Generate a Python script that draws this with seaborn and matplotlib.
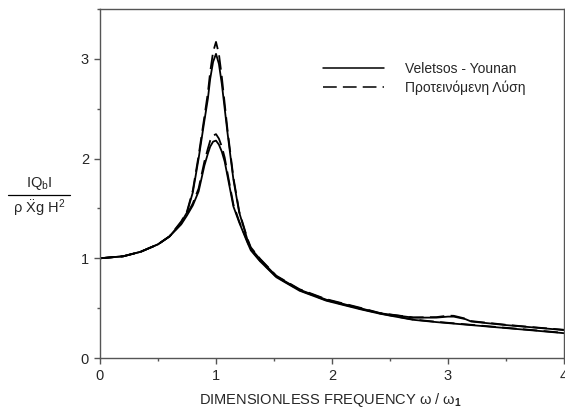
import numpy as np
import matplotlib
matplotlib.use("Agg")
import matplotlib.pyplot as plt
from matplotlib.lines import Line2D
from matplotlib.ticker import MultipleLocator
import pandas as pd
import seaborn as sns

# values (x = omega/omega_1)
freq = [0.0, 0.2, 0.35, 0.5, 0.6, 0.7, 0.75, 0.8, 0.85, 0.9, 0.93, 0.95, 0.975,
        1.0, 1.025, 1.05, 1.075, 1.1, 1.15, 1.2, 1.27, 1.3, 1.38, 1.52, 1.72,
        1.95, 2.24, 2.41, 2.5, 2.7, 2.9, 3.0, 3.05, 3.15, 3.2, 3.5, 3.75, 4.0]

vy_high = [1.0, 1.02, 1.065, 1.14, 1.22, 1.36, 1.46, 1.66, 2.0, 2.38, 2.6, 2.8, 2.97,
           3.05, 2.95, 2.75, 2.5, 2.25, 1.79, 1.46, 1.19, 1.1, 0.99, 0.82, 0.685,
           0.585, 0.50, 0.45, 0.435, 0.405, 0.405, 0.415, 0.415, 0.39, 0.366, 0.33, 0.305, 0.28]

prop_high = [1.0, 1.02, 1.065, 1.14, 1.22, 1.37, 1.47, 1.68, 2.03, 2.42, 2.66, 2.87, 3.07,
             3.17, 3.05, 2.82, 2.55, 2.28, 1.81, 1.47, 1.2, 1.11, 0.995, 0.825, 0.69,
             0.59, 0.505, 0.452, 0.437, 0.407, 0.41, 0.425, 0.423, 0.395, 0.37, 0.333, 0.307, 0.283]

vy_low = [1.0, 1.02, 1.065, 1.14, 1.22, 1.34, 1.43, 1.53, 1.67, 1.93, 2.05, 2.12, 2.17,
          2.18, 2.14, 2.07, 1.97, 1.82, 1.52, 1.36, 1.16, 1.08, 0.97, 0.81, 0.675,
          0.575, 0.49, 0.445, 0.425, 0.383, 0.36, 0.35, 0.345, 0.335, 0.33, 0.30, 0.275, 0.249]

prop_low = [1.0, 1.02, 1.065, 1.14, 1.22, 1.35, 1.44, 1.55, 1.70, 1.97, 2.10, 2.18, 2.23,
            2.245, 2.2, 2.12, 2.01, 1.85, 1.54, 1.37, 1.17, 1.09, 0.975, 0.815, 0.68,
            0.58, 0.495, 0.448, 0.428, 0.386, 0.363, 0.353, 0.348, 0.338, 0.333, 0.303, 0.278, 0.252]

legend_labels = ["Veletsos - Younan", "Προτεινόμενη Λύση"]

sns.set_style("ticks")
plt.rcParams["font.family"] = ["Liberation Sans", "DejaVu Sans"]
plt.rcParams["mathtext.fontset"] = "custom"
plt.rcParams["mathtext.rm"] = "Liberation Sans"
plt.rcParams["mathtext.it"] = "Liberation Sans:italic"
plt.rcParams["mathtext.bf"] = "Liberation Sans:bold"

fig = plt.figure(figsize=(5.65, 4.19), dpi=100)
ax = fig.add_axes([100 / 565, 61 / 419, 464 / 565, 349 / 419])

lw = 1.3
dash = (0, (8, 3.5))
df = pd.DataFrame({"x": freq, "vy_high": vy_high, "prop_high": prop_high,
                   "vy_low": vy_low, "prop_low": prop_low})
for col in ["vy_high", "vy_low"]:
    sns.lineplot(data=df, x="x", y=col, ax=ax, color="black", linewidth=lw)
for col in ["prop_high", "prop_low"]:
    sns.lineplot(data=df, x="x", y=col, ax=ax, color="black", linewidth=lw, linestyle=dash)

ax.set_xlim(0, 4)
ax.set_ylim(0, 3.5)
ax.xaxis.set_major_locator(MultipleLocator(1))
ax.xaxis.set_minor_locator(MultipleLocator(0.5))
ax.yaxis.set_major_locator(MultipleLocator(1))
ax.yaxis.set_minor_locator(MultipleLocator(0.5))
ax.set_xlabel("")
ax.set_ylabel("")
for sp in ax.spines.values():
    sp.set_color("#555555")
    sp.set_linewidth(1.0)
ax.tick_params(which="major", length=4, width=1, color="#555555", labelsize=10.5, pad=4)
ax.tick_params(which="minor", length=2, width=1, color="#555555")

handles = [Line2D([], [], color="black", linewidth=1.1),
           Line2D([], [], color="black", linewidth=1.1, linestyle=(0, (9, 4)))]
ax.legend(handles, legend_labels, loc="upper left", bbox_to_anchor=(323 / 565, 1 - 62 / 419),
          bbox_transform=fig.transFigure, frameon=False, fontsize=10, handlelength=4.4,
          handletextpad=1.5, borderpad=0, borderaxespad=0, labelspacing=0.3)

fig.text(330 / 565, 1 - 400 / 419, r"DIMENSIONLESS FREQUENCY ω / ω$_{\mathbf{1}}$",
         ha="center", va="center", fontsize=10.5)

# y label drawn as a fraction
fig.text(39 / 565, 1 - 183 / 419, r"IQ$_\mathrm{b}$I", ha="center", va="center", fontsize=10.5)
fig.text(39 / 565, 1 - 208 / 419, r"ρ $\ddot{\mathrm{X}}$g H$^2$", ha="center", va="center", fontsize=10.5)
fig.add_artist(Line2D([8 / 565, 70 / 565], [1 - 195 / 419, 1 - 195 / 419],
                      color="black", linewidth=0.9, transform=fig.transFigure))

fig.savefig("out.png", dpi=100)
